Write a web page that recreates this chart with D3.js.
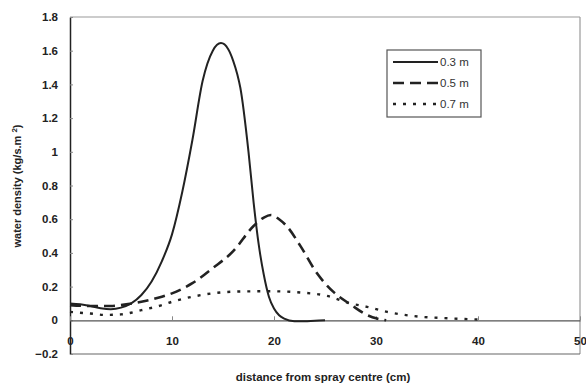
<!DOCTYPE html>
<html><head><meta charset="utf-8">
<script src="https://cdn.jsdelivr.net/npm/d3@7"></script>
<style>body{margin:0;background:#fff;} text{font-family:Arial,"Liberation Sans",sans-serif;}</style>
</head><body><svg id="c" width="586" height="385"></svg>
<script>
const xTicks = [0,10,20,30,40,50];
const yTicks = [-0.2,0,0.2,0.4,0.6,0.8,1,1.2,1.4,1.6,1.8];
const seriesNames = ["0.3 m","0.5 m","0.7 m"];
const x03 = [0,1,2,3,4,5,6,7,8,9,10,11,12,13,14,14.8,15.5,16,16.4,16.7,17.5,18,18.5,19,19.5,20,20.5,21,22,23,24,25];
const y03 = [0.1,0.095,0.085,0.072,0.066,0.075,0.1,0.15,0.23,0.35,0.51,0.76,1.07,1.42,1.6,1.645,1.61,1.54,1.46,1.38,1.0,0.7,0.45,0.27,0.14,0.07,0.03,0.01,-0.005,-0.006,-0.002,0];
const x05 = [0,2,4,5,7,9,10,12,14,16,18,19,19.7,20.5,21.3,22.6,24.2,25.8,27.6,29,30.1,31];
const y05 = [0.09,0.085,0.085,0.09,0.11,0.14,0.16,0.22,0.31,0.41,0.56,0.61,0.625,0.6,0.555,0.44,0.28,0.17,0.09,0.035,0.01,0];
const x07 = [0,2,3.5,5,7,9,10,12,14,16,18,20,22.6,25.2,27.5,29.1,31.1,33.7,37,40];
const y07 = [0.05,0.04,0.032,0.035,0.06,0.09,0.11,0.14,0.16,0.17,0.172,0.172,0.165,0.145,0.1,0.08,0.05,0.025,0.012,0.005];

const svg = d3.select("#c");
const L=70, R=580, T=17, B=354;
const x = d3.scaleLinear().domain([0,50]).range([L,R]);
const y = d3.scaleLinear().domain([-0.2,1.8]).range([B,T]);

// frame
svg.append("line").attr("x1",L).attr("x2",R).attr("y1",T).attr("y2",T).attr("stroke","#999").attr("stroke-width",1.2);
svg.append("line").attr("x1",R).attr("x2",R).attr("y1",T).attr("y2",B).attr("stroke","#999").attr("stroke-width",1.2);
svg.append("line").attr("x1",L).attr("x2",R).attr("y1",B).attr("y2",B).attr("stroke","#666").attr("stroke-width",1.2);

const bold = s => s.style("font-family","Arial, 'Liberation Sans', sans-serif").style("font-weight","bold");

// y axis
const ya = svg.append("g").attr("transform",`translate(${L},0)`)
  .call(d3.axisLeft(y).tickValues(yTicks).tickFormat(d=>d3.format("")(+d.toFixed(1))).tickSizeInner(-3).tickSizeOuter(0).tickPadding(12));
ya.select(".domain").attr("stroke","#222").attr("stroke-width",1.5);
ya.selectAll(".tick line").attr("stroke","#888");
bold(ya.selectAll("text").attr("font-size",11.5).attr("fill","#222"));

// x axis at y=0
const xa = svg.append("g").attr("transform",`translate(0,${y(0)})`)
  .call(d3.axisBottom(x).tickValues(xTicks).tickFormat(d3.format("d")).tickSizeInner(-4).tickSizeOuter(0));
xa.select(".domain").attr("stroke","#555").attr("stroke-width",1.2);
xa.selectAll(".tick line").attr("stroke","#888");
bold(xa.selectAll("text").attr("y",17).attr("font-size",11.5).attr("fill","#222"));

const line = d3.line().x(d=>x(d[0])).y(d=>y(d[1])).curve(d3.curveMonotoneX);
const styles = [
  {dash:null,w:2},
  {dash:"11,6",w:2.6},
  {dash:"3,7",w:2.4}
];
const data = [d3.zip(x03,y03), d3.zip(x05,y05), d3.zip(x07,y07)];
data.forEach((d,i)=>{
  svg.append("path").datum(d).attr("d",line).attr("fill","none").attr("stroke","#222")
    .attr("stroke-width",styles[i].w).attr("stroke-dasharray",styles[i].dash);
});

// legend
const lg = svg.append("g");
lg.append("rect").attr("x",387).attr("y",50).attr("width",94).attr("height",67).attr("fill","#fff").attr("stroke","#555").attr("stroke-width",1.2);
seriesNames.forEach((n,i)=>{
  const yy = 62 + i*21;
  lg.append("line").attr("x1",393).attr("x2",438).attr("y1",yy).attr("y2",yy).attr("stroke","#222")
    .attr("stroke-width",styles[i].w).attr("stroke-dasharray",styles[i].dash);
  lg.append("text").attr("x",440).attr("y",yy+4).attr("font-size",11.5).attr("fill","#333")
    .style("font-weight","normal").text(n);
});

// axis titles
bold(svg.append("text").attr("x",323).attr("y",381).attr("text-anchor","middle").attr("font-size",11.5).attr("fill","#222")
  .text("distance from spray centre (cm)"));
const yt = bold(svg.append("text").attr("transform","translate(21,186) rotate(-90)").attr("text-anchor","middle")
  .attr("font-size",11).attr("fill","#222"));
yt.append("tspan").text("water density (kg/s.m ");
yt.append("tspan").attr("dy",-4).attr("font-size",8).text("2");
yt.append("tspan").attr("dy",4).text(")");
</script></body></html>
